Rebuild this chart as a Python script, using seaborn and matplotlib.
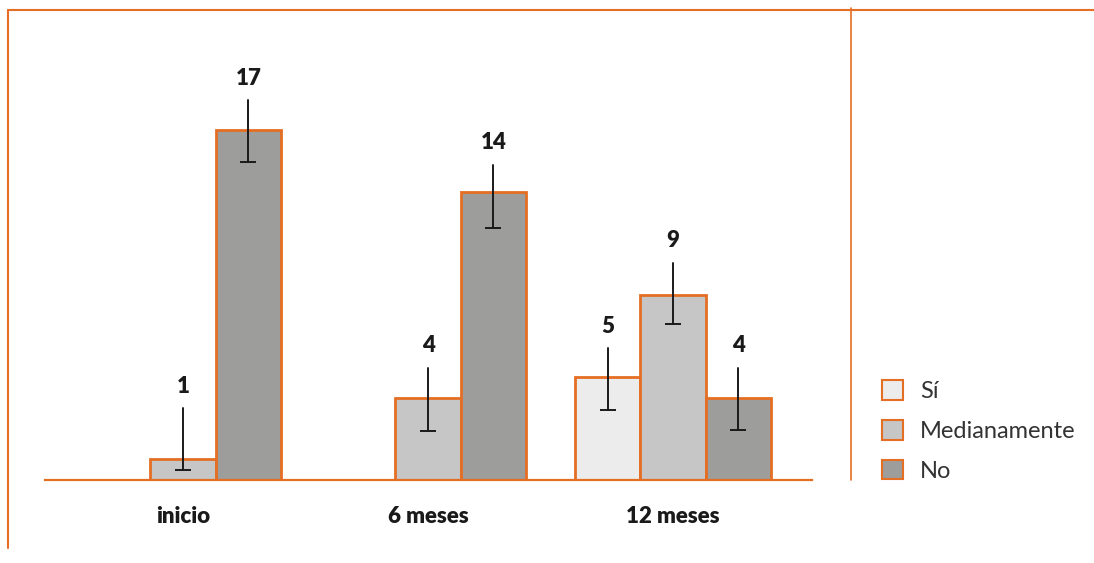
import matplotlib

matplotlib.use("Agg")
import matplotlib.pyplot as plt
import numpy as np
import pandas as pd
import seaborn as sns
from matplotlib.lines import Line2D
from matplotlib.patches import Patch

# data
momentos = ["inicio", "6 meses", "12 meses"]
respuestas = ["Sí", "Medianamente", "No"]
valores = {
    "Sí": [0, 0, 5],
    "Medianamente": [1, 4, 9],
    "No": [17, 14, 4],
}
# asymmetric error bars (below / above the bar top)
err_abajo = {
    "Sí": [0, 0, 1.6],
    "Medianamente": [0.5, 1.6, 1.45],
    "No": [1.55, 1.75, 1.55],
}
err_arriba = {
    "Sí": [0, 0, 1.4],
    "Medianamente": [2.5, 1.45, 1.55],
    "No": [1.45, 1.3, 1.45],
}

colores = {"Sí": "#ececec", "Medianamente": "#c6c6c6", "No": "#9d9d9c"}
naranja = "#e46e23"


def build_frame():
    rows = []
    for r in respuestas:
        for i, m in enumerate(momentos):
            rows.append(
                {
                    "momento": m,
                    "respuesta": r,
                    "n": valores[r][i],
                    "lo": err_abajo[r][i],
                    "hi": err_arriba[r][i],
                }
            )
    return pd.DataFrame(rows)


def main():
    sns.set_style("white")
    plt.rcParams["font.family"] = ["Lato", "DejaVu Sans"]

    df = build_frame()

    fig = plt.figure(figsize=(10.94, 5.63), dpi=100)
    ax = fig.add_axes([45 / 1094, 1 - 480 / 563, (812 - 45) / 1094, 450 / 563])

    sns.barplot(
        data=df,
        x="momento",
        y="n",
        hue="respuesta",
        order=momentos,
        hue_order=respuestas,
        palette=colores,
        edgecolor=naranja,
        linewidth=2,
        width=0.8,
        errorbar=None,
        legend=False,
        ax=ax,
    )

    # error bars + value labels, positioned from the drawn bars
    for patch in ax.patches:
        h = patch.get_height()
        if h <= 0:
            continue
        w = patch.get_width()
        xc = patch.get_x() + w / 2
        cat = int(round(xc))
        hue = int(round((xc - cat) / w)) + 1
        row = df[(df.momento == momentos[cat]) & (df.respuesta == respuestas[hue])].iloc[0]
        y0, y1 = h - row.lo, h + row.hi
        ax.plot([xc, xc], [y0, y1], color="#1a1a1a", lw=1.4, zorder=5)
        ax.plot([xc], [y0], marker="_", ms=11, mew=1.4, color="#1a1a1a", zorder=5)
        ax.annotate(
            f"{int(row.n)}",
            (xc, y1),
            xytext=(0, 11),
            textcoords="offset points",
            ha="center",
            va="baseline",
            fontsize=16,
            fontweight="heavy",
            color="#1a1a1a",
        )

    ax.set_xlim(-0.563, 2.567)
    ax.set_ylim(0, 21.84)
    ax.set_xlabel("")
    ax.set_ylabel("")
    ax.set_yticks([])
    ax.tick_params(axis="x", length=0, pad=19)
    for lab in ax.get_xticklabels():
        lab.set_fontsize(16)
        lab.set_fontweight("heavy")
        lab.set_color("#1a1a1a")
    for side in ["top", "right", "left"]:
        ax.spines[side].set_visible(False)
    ax.spines["bottom"].set_color(naranja)
    ax.spines["bottom"].set_linewidth(1.6)

    # legend
    handles = [Patch(facecolor=colores[r], edgecolor=naranja, lw=1.5) for r in respuestas]
    fig.legend(
        handles,
        respuestas,
        loc="center left",
        bbox_to_anchor=(882 / 1094, 1 - 431 / 563),
        frameon=False,
        fontsize=17,
        handlelength=0.9,
        handleheight=0.9,
        handletextpad=0.72,
        labelspacing=0.75,
        borderpad=0,
        borderaxespad=0,
        labelcolor="#333333",
    )

    # orange frame lines
    top = 1 - 10 / 563
    left = 8 / 1094
    fig.add_artist(Line2D([left, 1], [top, top], color=naranja, lw=1.5, transform=fig.transFigure))
    fig.add_artist(Line2D([left, left], [top, 1 - 548 / 563], color=naranja, lw=1.5, transform=fig.transFigure))
    xv = 851 / 1094
    fig.add_artist(Line2D([xv, xv], [1 - 8 / 563, 1 - 480 / 563], color=naranja, lw=1.2, transform=fig.transFigure))

    fig.savefig("out.png", dpi=100)
    plt.close(fig)


if __name__ == "__main__":
    main()
